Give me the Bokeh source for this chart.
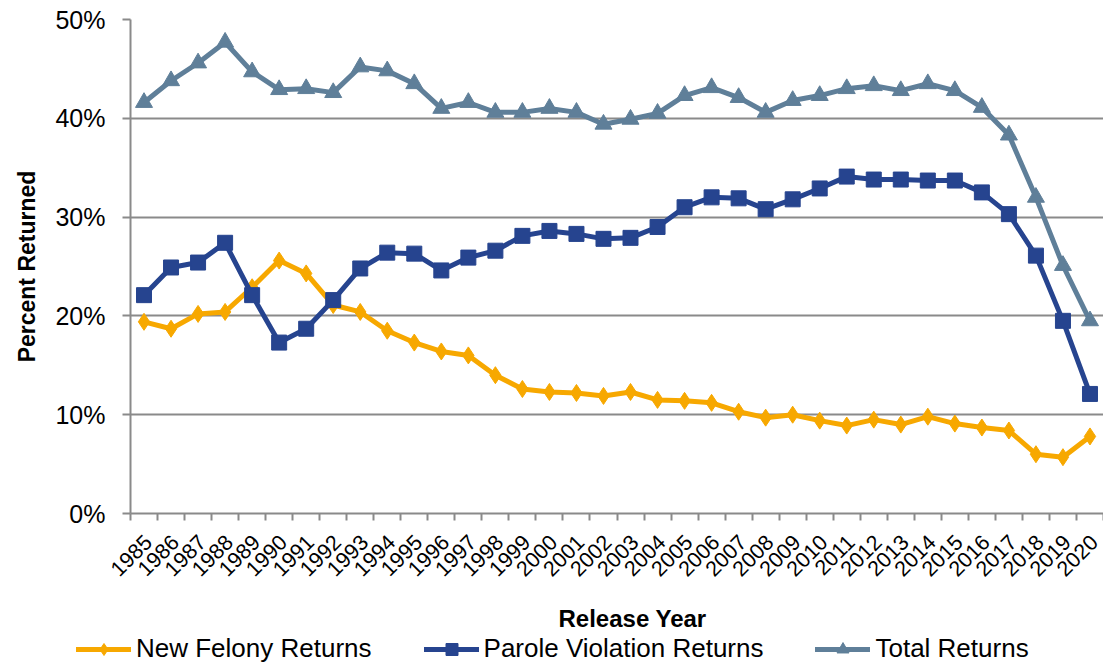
from math import pi
from bokeh.plotting import figure
from bokeh.layouts import column
from bokeh.models import (Range1d, FixedTicker, PrintfTickFormatter, Legend, LegendItem,
                          LinearAxis, Title)
from bokeh.embed import file_html
from bokeh.resources import INLINE

years = list(range(1985, 2021))
new_felony = [19.4, 18.7, 20.2, 20.4, 22.9, 25.6, 24.3, 21.1, 20.4, 18.5,
              17.3, 16.4, 16.0, 14.0, 12.6, 12.3, 12.2, 11.9, 12.3, 11.5,
              11.4, 11.2, 10.3, 9.7, 10.0, 9.4, 8.9, 9.5, 9.0, 9.8,
              9.1, 8.7, 8.4, 6.0, 5.7, 7.8]
parole = [22.1, 24.9, 25.4, 27.4, 22.1, 17.3, 18.7, 21.6, 24.8, 26.4,
          26.3, 24.6, 25.9, 26.6, 28.1, 28.6, 28.3, 27.8, 27.9, 29.0,
          31.0, 32.0, 31.9, 30.8, 31.8, 32.9, 34.1, 33.8, 33.8, 33.7,
          33.7, 32.5, 30.3, 26.1, 19.5, 12.1]
total = [41.6, 43.8, 45.6, 47.7, 44.7, 42.9, 43.0, 42.6, 45.2, 44.8,
         43.5, 41.0, 41.6, 40.6, 40.6, 41.0, 40.6, 39.4, 39.9, 40.5,
         42.3, 43.1, 42.1, 40.6, 41.8, 42.3, 43.0, 43.3, 42.8, 43.5,
         42.8, 41.1, 38.3, 32.0, 25.1, 19.5]
y_ticks = [0, 10, 20, 30, 40, 50]
series_names = ["New Felony Returns", "Parole Violation Returns", "Total Returns"]

ORANGE = "#F7A800"
NAVY = "#26448F"
SLATE = "#5F7F99"
GRID = "#8A8A8A"
FONT = "Liberation Sans"

LABEL_SHIFT = 0.15  # horizontal nudge of the rotated year labels (in category widths)

p = figure(width=1103, height=597, output_backend="svg", toolbar_location=None,
           x_range=Range1d(years[0] - 0.5, years[-1] + 0.5),
           y_range=Range1d(y_ticks[0], y_ticks[-1]),
           x_axis_location=None,
           min_border_left=130, min_border_right=0, min_border_top=19,
           min_border_bottom=84)
p.frame_align = False
p.outline_line_color = None
p.background_fill_color = "white"
p.extra_x_ranges = {"lbl": Range1d(years[0] - 0.5 - LABEL_SHIFT, years[-1] + 0.5 - LABEL_SHIFT)}

# grid
p.xgrid.grid_line_color = None
p.ygrid.grid_line_color = GRID
p.ygrid.grid_line_width = 2
p.ygrid.ticker = FixedTicker(ticks=y_ticks)

# y axis
ya = p.yaxis[0]
ya.ticker = FixedTicker(ticks=y_ticks)
ya.formatter = PrintfTickFormatter(format="%d%%")
ya.axis_line_color = GRID
ya.axis_line_width = 2
ya.major_tick_line_color = GRID
ya.major_tick_line_width = 2
ya.major_tick_out = 8
ya.major_tick_in = 0
ya.minor_tick_line_color = None
ya.major_label_text_font = FONT
ya.major_label_text_font_size = "25px"
ya.major_label_text_color = "#000000"
ya.major_label_standoff = 17
ya.axis_label = "Percent Returned"
ya.axis_label_text_font = FONT
ya.axis_label_text_font_style = "bold"
ya.axis_label_text_font_size = "23px"
ya.axis_label_text_color = "#000000"
ya.axis_label_standoff = 12

# x axis (on the slightly shifted range so the rotated labels sit like the original)
xa = LinearAxis(x_range_name="lbl")
xa.ticker = FixedTicker(ticks=years,
                        minor_ticks=[y - 0.5 - LABEL_SHIFT for y in years]
                        + [years[-1] + 0.5 - LABEL_SHIFT])
xa.axis_line_color = GRID
xa.axis_line_width = 2
xa.major_tick_line_color = None
xa.major_tick_out = 0
xa.major_tick_in = 0
xa.minor_tick_line_color = GRID
xa.minor_tick_line_width = 2
xa.minor_tick_out = 7
xa.minor_tick_in = 0
xa.major_label_orientation = pi / 4
xa.major_label_text_font = FONT
xa.major_label_text_font_size = "21.5px"
xa.major_label_text_color = "#000000"
xa.major_label_standoff = 18
p.add_layout(xa, "below")

# series
p.line(years, new_felony, line_color=ORANGE, line_width=5, line_join="round")
p.scatter(years, new_felony, marker="diamond", size=17, fill_color=ORANGE, line_color=ORANGE)
p.line(years, parole, line_color=NAVY, line_width=5, line_join="round")
p.scatter(years, parole, marker="square", size=15, fill_color=NAVY, line_color=NAVY)
p.line(years, total, line_color=SLATE, line_width=5, line_join="round")
p.scatter(years, total, marker="triangle", size=17, fill_color=SLATE, line_color=SLATE)

# strip underneath: x-axis title + legend. The series are drawn here too, but its
# ranges keep them out of view so that only the legend samples show.
lf = figure(width=1103, height=69, output_backend="svg", toolbar_location=None,
            x_axis_location=None, y_axis_location=None,
            min_border_left=0, min_border_right=0, min_border_top=34, min_border_bottom=0,
            x_range=Range1d(0, 1), y_range=Range1d(0, 1))
lf.frame_align = False
lf.outline_line_color = None
lf.xgrid.grid_line_color = None
lf.ygrid.grid_line_color = None
xt = Title(text="Release Year", align="left", offset=558, vertical_align="bottom",
           text_font=FONT, text_font_style="bold", text_font_size="24px",
           text_color="#000000", standoff=0)
lf.add_layout(xt, "above")

styles = [(new_felony, ORANGE, "diamond"), (parole, NAVY, "square"), (total, SLATE, "triangle")]
items = []
for name, (vals, col, mk) in zip(series_names, styles):
    lr = lf.line(years, vals, line_color=col, line_width=5, line_cap="round")
    sr = lf.scatter(years, vals, marker=mk, fill_color=col, line_color=col)
    items.append(LegendItem(label=name, renderers=[lr, sr]))
legend = Legend(items=items, orientation="horizontal", location=(76, 2))
legend.padding = 0
legend.margin = 0
legend.spacing = 52
legend.glyph_width = 55
legend.glyph_height = 30
legend.label_standoff = 5
legend.label_text_font = FONT
legend.label_text_font_size = "26px"
legend.label_text_color = "#000000"
legend.border_line_color = None
legend.background_fill_alpha = 0
lf.add_layout(legend)

open("out.html", "w").write(file_html(column(p, lf), INLINE))
